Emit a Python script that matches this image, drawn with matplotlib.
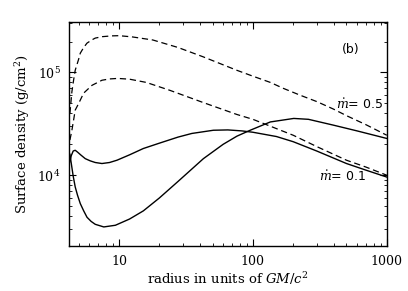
import matplotlib
matplotlib.use("Agg")
import matplotlib.pyplot as plt
from matplotlib.ticker import LogLocator, NullFormatter, FixedLocator, FixedFormatter

# dashed curves (upper and lower)
r_dash_hi = [4.3, 4.45, 4.58, 4.71, 5.0, 5.14, 5.45, 5.77, 6.3, 6.65, 7.5, 8.87, 10, 12.5, 17.9, 27.6, 42.5, 75.9, 100, 135, 169, 226, 301, 400, 500, 700, 1000]
s_dash_hi = [4.0e4, 6.5e4, 8.4e4, 1.05e5, 1.35e5, 1.54e5, 1.75e5, 1.93e5, 2.08e5, 2.16e5, 2.23e5, 2.27e5, 2.28e5, 2.22e5, 2.07e5, 1.75e5, 1.42e5, 1.05e5, 9.2e4, 8.0e4, 7.0e4, 6.0e4, 5.2e4, 4.4e4, 3.8e4, 3.1e4, 2.45e4]

r_dash_lo = [4.3, 4.45, 4.58, 4.71, 5.0, 5.45, 6.29, 7.46, 8.5, 9.8, 12, 16, 24, 42.5, 76, 100, 135, 200, 300, 500, 700, 1000]
s_dash_lo = [2.2e4, 2.74e4, 3.43e4, 4.3e4, 5.0e4, 6.3e4, 7.5e4, 8.4e4, 8.65e4, 8.75e4, 8.6e4, 8.0e4, 6.7e4, 5.1e4, 3.9e4, 3.5e4, 3.0e4, 2.45e4, 1.9e4, 1.4e4, 1.2e4, 1.0e4]

# solid curves
r_solid_a = [4.3, 4.4, 4.55, 4.71, 4.9, 5.2, 5.6, 6.1, 6.65, 7.46, 8.5, 9.66, 12, 15.2, 20, 27.6, 35, 50.7, 65, 82.8, 100, 150, 200, 300, 500, 700, 1000]
s_solid_a = [1.35e4, 1.55e4, 1.72e4, 1.75e4, 1.68e4, 1.57e4, 1.45e4, 1.38e4, 1.33e4, 1.30e4, 1.33e4, 1.40e4, 1.58e4, 1.82e4, 2.05e4, 2.35e4, 2.55e4, 2.74e4, 2.76e4, 2.7e4, 2.62e4, 2.38e4, 2.12e4, 1.72e4, 1.3e4, 1.12e4, 9.6e3]

r_solid_b = [4.3, 4.4, 4.55, 4.71, 4.9, 5.14, 5.45, 5.77, 6.2, 6.65, 7.7, 9.4, 12, 15.2, 20, 27.6, 42.7, 60, 76, 95.5, 135, 202, 260, 400, 600, 1000]
s_solid_b = [1.6e4, 1.31e4, 9.8e3, 7.7e3, 6.4e3, 5.3e3, 4.5e3, 3.9e3, 3.55e3, 3.33e3, 3.14e3, 3.26e3, 3.75e3, 4.5e3, 6.0e3, 8.7e3, 1.45e4, 2.0e4, 2.4e4, 2.74e4, 3.3e4, 3.57e4, 3.5e4, 3.07e4, 2.7e4, 2.28e4]

xticks = [10, 100, 1000]
xticklabels = ['10', '100', '1000']

plt.rcParams['font.family'] = 'DejaVu Serif'
plt.rcParams['mathtext.fontset'] = 'dejavuserif'

fig = plt.figure(figsize=(4.08, 2.91), dpi=100)
ax = fig.add_axes([0.169, 0.154, 0.779, 0.772])

ax.plot(r_dash_hi, s_dash_hi, color='black', lw=0.9, ls=(0, (5, 3)))
ax.plot(r_dash_lo, s_dash_lo, color='black', lw=0.9, ls=(0, (5, 3)))
ax.plot(r_solid_a, s_solid_a, color='black', lw=1.0)
ax.plot(r_solid_b, s_solid_b, color='black', lw=1.0)

ax.set_xscale('log')
ax.set_yscale('log')
ax.set_xlim(4.23, 1000)
ax.set_ylim(2.04e3, 3.13e5)

ax.xaxis.set_major_locator(FixedLocator(xticks))
ax.xaxis.set_major_formatter(FixedFormatter(xticklabels))
ax.xaxis.set_minor_locator(LogLocator(base=10, subs=range(2, 10), numticks=20))
ax.xaxis.set_minor_formatter(NullFormatter())
ax.yaxis.set_major_locator(LogLocator(base=10, numticks=10))
ax.yaxis.set_minor_locator(LogLocator(base=10, subs=range(2, 10), numticks=20))
ax.yaxis.set_minor_formatter(NullFormatter())
ax.tick_params(which='both', direction='in', top=True, right=True, labelsize=9)
ax.tick_params(which='major', length=5, width=0.8, pad=6)
ax.tick_params(which='minor', length=2.5, width=0.6)
for sp in ax.spines.values():
    sp.set_linewidth(1.0)

ax.set_xlabel(r'radius in units of $GM/c^2$', fontsize=9.5, labelpad=2)
ax.set_ylabel(r'Surface density (g/cm$^2$)', fontsize=9.5, labelpad=4)

ax.text(0.915, 0.875, '(b)', transform=ax.transAxes, fontsize=9, ha='right', va='center', family='DejaVu Sans')
ax.text(0.988, 0.63, r'$\dot{m}$= 0.5', transform=ax.transAxes, fontsize=9, ha='right', va='center', family='DejaVu Sans')
ax.text(0.935, 0.31, r'$\dot{m}$= 0.1', transform=ax.transAxes, fontsize=9, ha='right', va='center', family='DejaVu Sans')

fig.savefig('out.png', dpi=100)
